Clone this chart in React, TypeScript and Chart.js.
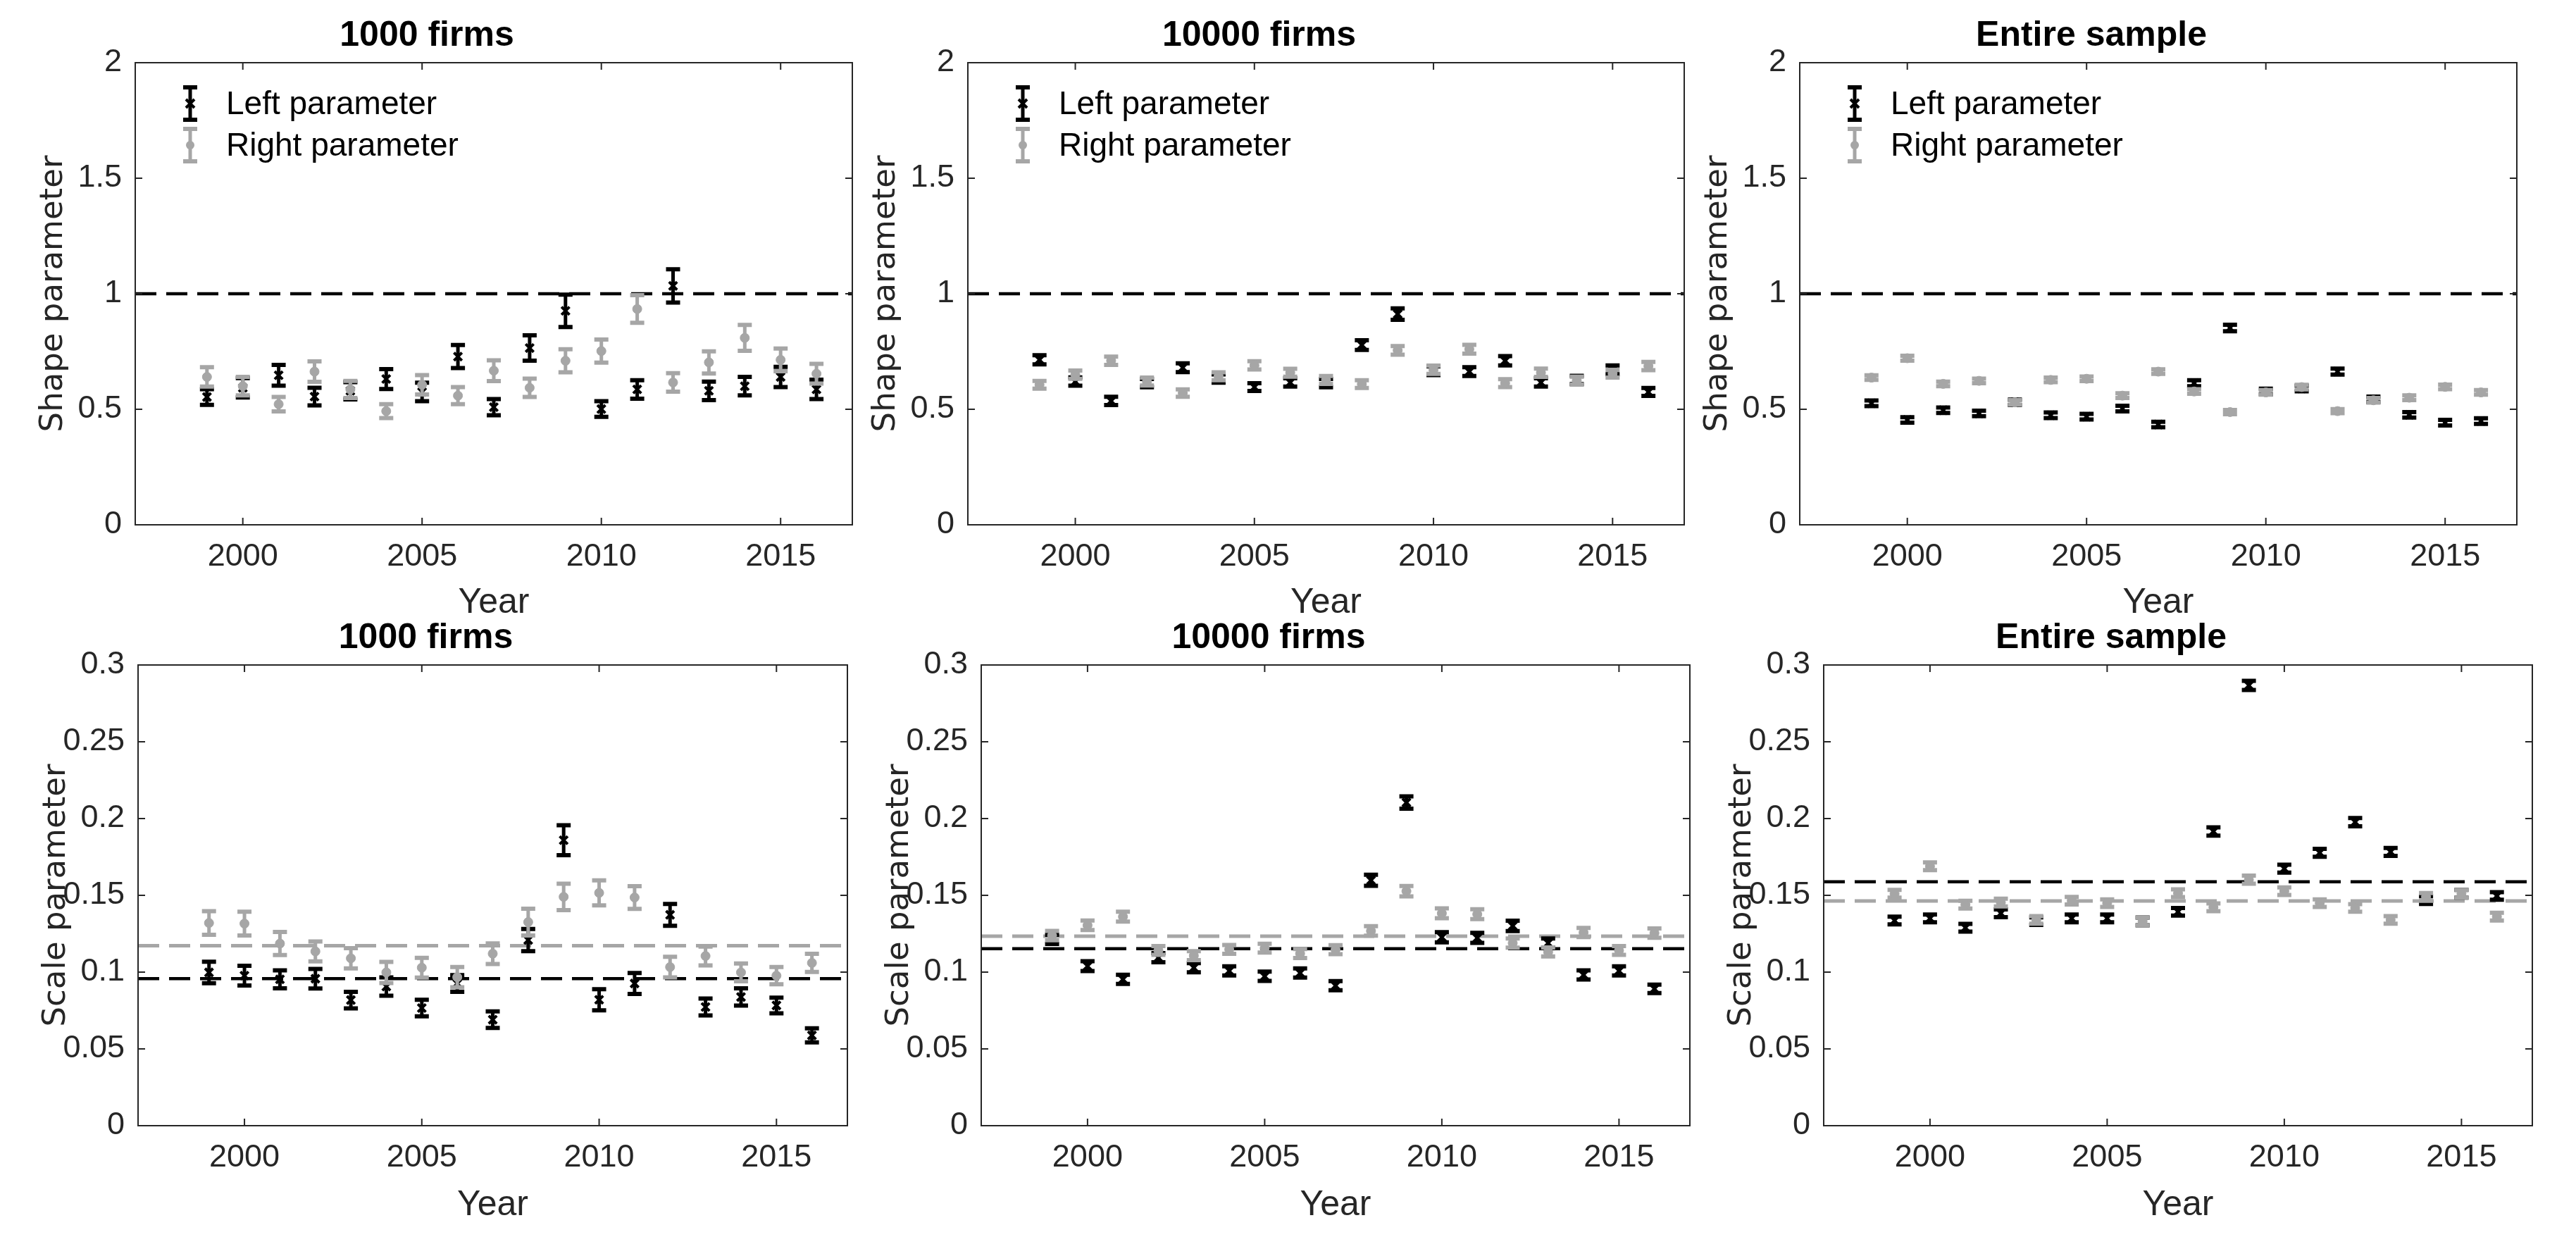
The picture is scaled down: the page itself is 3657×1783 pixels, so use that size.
import React, { useEffect, useRef } from 'react';
import { Chart, registerables } from 'chart.js';

Chart.register(...registerables);

// ---------------- data ----------------
const years = [1999, 2000, 2001, 2002, 2003, 2004, 2005, 2006, 2007, 2008, 2009, 2010, 2011, 2012, 2013, 2014, 2015, 2016];
const xTickValues = [2000, 2005, 2010, 2015];
const shapeTickValues = [0, 0.5, 1, 1.5, 2];
const scaleTickValues = [0, 0.05, 0.1, 0.15, 0.2, 0.25, 0.3];

const titles = ['1000 firms', '10000 firms', 'Entire sample'];
const shapeLabel = 'Shape parameter';
const scaleLabel = 'Scale parameter';
const xLabel = 'Year';
const legendLabels = ['Left parameter', 'Right parameter'];

// Shape parameter, 1000 firms
const shape1000Left = [0.553, 0.593, 0.647, 0.555, 0.580, 0.631, 0.575, 0.728, 0.509, 0.765, 0.926, 0.501, 0.586, 1.034, 0.580, 0.600, 0.640, 0.586];
const shape1000LeftErr = [0.034, 0.042, 0.045, 0.038, 0.037, 0.043, 0.040, 0.050, 0.035, 0.055, 0.070, 0.034, 0.040, 0.072, 0.040, 0.040, 0.044, 0.042];
const shape1000Right = [0.640, 0.600, 0.522, 0.663, 0.586, 0.492, 0.606, 0.559, 0.667, 0.593, 0.710, 0.752, 0.934, 0.616, 0.703, 0.809, 0.714, 0.654];
const shape1000RightErr = [0.042, 0.040, 0.031, 0.044, 0.037, 0.030, 0.042, 0.037, 0.045, 0.040, 0.050, 0.050, 0.060, 0.040, 0.048, 0.056, 0.049, 0.043];

// Shape parameter, 10000 firms
const shape10000Left = [0.714, 0.620, 0.536, 0.613, 0.680, 0.633, 0.596, 0.616, 0.613, 0.778, 0.912, 0.667, 0.663, 0.710, 0.616, 0.627, 0.671, 0.575];
const shape10000LeftErr = [0.020, 0.018, 0.018, 0.018, 0.019, 0.018, 0.017, 0.018, 0.018, 0.021, 0.025, 0.019, 0.019, 0.020, 0.018, 0.018, 0.019, 0.017];
const shape10000Right = [0.606, 0.650, 0.710, 0.620, 0.570, 0.643, 0.690, 0.658, 0.627, 0.609, 0.755, 0.671, 0.760, 0.613, 0.658, 0.624, 0.654, 0.687];
const shape10000RightErr = [0.017, 0.018, 0.018, 0.017, 0.016, 0.017, 0.018, 0.017, 0.017, 0.017, 0.019, 0.018, 0.019, 0.017, 0.018, 0.017, 0.017, 0.018];

// Shape parameter, entire sample
const shapeAllLeft = [0.526, 0.454, 0.496, 0.482, 0.530, 0.474, 0.468, 0.503, 0.434, 0.613, 0.852, 0.577, 0.590, 0.663, 0.543, 0.476, 0.442, 0.449];
const shapeAllLeftErr = [0.012, 0.012, 0.012, 0.012, 0.012, 0.012, 0.012, 0.012, 0.012, 0.013, 0.014, 0.012, 0.012, 0.013, 0.012, 0.012, 0.012, 0.012];
const shapeAllRight = [0.637, 0.721, 0.610, 0.623, 0.530, 0.627, 0.632, 0.559, 0.663, 0.577, 0.488, 0.573, 0.596, 0.492, 0.539, 0.550, 0.597, 0.573];
const shapeAllRightErr = [0.010, 0.011, 0.010, 0.010, 0.010, 0.010, 0.010, 0.010, 0.010, 0.010, 0.009, 0.010, 0.010, 0.009, 0.010, 0.010, 0.010, 0.010];

// Scale parameter, 1000 firms
const scale1000Left = [0.0998, 0.0977, 0.0953, 0.0957, 0.0818, 0.0906, 0.0766, 0.0926, 0.0690, 0.1209, 0.1859, 0.0820, 0.0926, 0.1373, 0.0773, 0.0838, 0.0783, 0.0588];
const scale1000LeftErr = [0.0070, 0.0064, 0.0058, 0.0064, 0.0054, 0.0060, 0.0054, 0.0054, 0.0054, 0.0072, 0.0097, 0.0069, 0.0068, 0.0071, 0.0055, 0.0056, 0.0051, 0.0046];
const scale1000Right = [0.1320, 0.1316, 0.1186, 0.1135, 0.1090, 0.0998, 0.1029, 0.0967, 0.1120, 0.1326, 0.1490, 0.1516, 0.1486, 0.1033, 0.1105, 0.0998, 0.0977, 0.1060];
const scale1000RightErr = [0.0077, 0.0077, 0.0075, 0.0065, 0.0066, 0.0069, 0.0064, 0.0066, 0.0067, 0.0087, 0.0086, 0.0081, 0.0074, 0.0067, 0.0061, 0.0058, 0.0056, 0.0059];

// Scale parameter, 10000 firms
const scale10000Left = [0.1213, 0.1039, 0.0953, 0.1094, 0.1029, 0.1008, 0.0973, 0.0994, 0.0912, 0.1598, 0.2104, 0.1227, 0.1223, 0.1301, 0.1189, 0.0982, 0.1008, 0.0891];
const scale10000LeftErr = [0.0030, 0.0032, 0.0030, 0.0030, 0.0030, 0.0030, 0.0030, 0.0030, 0.0030, 0.0036, 0.0040, 0.0033, 0.0033, 0.0034, 0.0030, 0.0030, 0.0030, 0.0028];
const scale10000Right = [0.1238, 0.1305, 0.1361, 0.1141, 0.1107, 0.1148, 0.1156, 0.1121, 0.1146, 0.1268, 0.1527, 0.1383, 0.1377, 0.1189, 0.1131, 0.1258, 0.1141, 0.1254];
const scale10000RightErr = [0.0030, 0.0031, 0.0032, 0.0029, 0.0029, 0.0029, 0.0029, 0.0029, 0.0029, 0.0031, 0.0034, 0.0032, 0.0032, 0.0030, 0.0029, 0.0030, 0.0029, 0.0030];

// Scale parameter, entire sample
const scaleAllLeft = [0.1336, 0.1350, 0.1289, 0.1383, 0.1332, 0.1350, 0.1350, 0.1330, 0.1393, 0.1916, 0.2867, 0.1674, 0.1777, 0.1977, 0.1783, 0.1469, 0.1510, 0.1496];
const scaleAllLeftErr = [0.0025, 0.0025, 0.0025, 0.0025, 0.0025, 0.0025, 0.0025, 0.0025, 0.0025, 0.0027, 0.0030, 0.0026, 0.0026, 0.0027, 0.0026, 0.0025, 0.0025, 0.0025];
const scaleAllRight = [0.1510, 0.1689, 0.1439, 0.1453, 0.1340, 0.1465, 0.1449, 0.1330, 0.1514, 0.1422, 0.1602, 0.1527, 0.1449, 0.1418, 0.1340, 0.1490, 0.1510, 0.1361];
const scaleAllRightErr = [0.0025, 0.0025, 0.0025, 0.0025, 0.0025, 0.0025, 0.0025, 0.0025, 0.0025, 0.0025, 0.0026, 0.0025, 0.0025, 0.0025, 0.0025, 0.0025, 0.0025, 0.0025];

// Reference (dashed) lines
const shapeReference = 1;
const scale1000LeftRef = 0.0957;
const scale1000RightRef = 0.1172;
const scale10000LeftRef = 0.1152;
const scale10000RightRef = 0.1234;
const scaleAllLeftRef = 0.1588;
const scaleAllRightRef = 0.1463;

// ---------------- styles ----------------
const BLACK = '#000000';
const GRAY = 'rgb(166,166,166)';
const AXIS = '#262626';
const SANS = '"Liberation Sans", Arial, Helvetica, sans-serif';
const YLABEL_FONT = '"DejaVu Sans", sans-serif';

const PAD_L = 190;
const PAD_T = 89;
const PAD_R = 30;
const PAD_B = 150;

type Rect = { x: number; y: number; w: number; h: number };

type PanelProps = {
  rect: Rect;
  title: string;
  yTitle: string;
  yTicks: number[];
  yMax: number;
  left: number[];
  leftErr: number[];
  right: number[];
  rightErr: number[];
  leftRef: number | null;
  rightRef: number | null;
  showLegend: boolean;
  xTitlePad: number;
};

function drawErrorIcon(ctx: CanvasRenderingContext2D, x: number, y: number, color: string, marker: 'x' | 'o') {
  ctx.save();
  ctx.strokeStyle = color;
  ctx.fillStyle = color;
  ctx.lineWidth = 5;
  ctx.beginPath();
  ctx.moveTo(x, y - 23);
  ctx.lineTo(x, y + 23);
  ctx.stroke();
  ctx.lineWidth = 6;
  ctx.beginPath();
  ctx.moveTo(x - 10, y - 23);
  ctx.lineTo(x + 10, y - 23);
  ctx.moveTo(x - 10, y + 23);
  ctx.lineTo(x + 10, y + 23);
  ctx.stroke();
  if (marker === 'x') {
    ctx.lineWidth = 4;
    ctx.beginPath();
    ctx.moveTo(x - 6, y - 6);
    ctx.lineTo(x + 6, y + 6);
    ctx.moveTo(x - 6, y + 6);
    ctx.lineTo(x + 6, y - 6);
    ctx.stroke();
  } else {
    ctx.beginPath();
    ctx.arc(x, y, 6, 0, Math.PI * 2);
    ctx.fill();
  }
  ctx.restore();
}

function Panel(props: PanelProps) {
  const ref = useRef<HTMLCanvasElement | null>(null);
  const { rect } = props;
  const cw = rect.w + PAD_L + PAD_R;
  const ch = rect.h + PAD_T + PAD_B;

  useEffect(() => {
    const canvas = ref.current;
    if (!canvas) return;

    const errorBars = {
      id: 'errorBars',
      beforeDatasetDraw(chart: any, args: any) {
        const ds = chart.data.datasets[args.index];
        if (!ds.errors) return;
        const ctx = chart.ctx as CanvasRenderingContext2D;
        const xs = chart.scales.x;
        const ys = chart.scales.y;
        ctx.save();
        ctx.strokeStyle = ds.errColor;
        ds.data.forEach((p: any, i: number) => {
          const e = ds.errors[i];
          const px = xs.getPixelForValue(p.x);
          const pt = ys.getPixelForValue(p.y + e);
          const pb = ys.getPixelForValue(p.y - e);
          ctx.lineWidth = 5;
          ctx.beginPath();
          ctx.moveTo(px, pt);
          ctx.lineTo(px, pb);
          ctx.stroke();
          ctx.lineWidth = 6;
          ctx.beginPath();
          ctx.moveTo(px - 10, pt);
          ctx.lineTo(px + 10, pt);
          ctx.moveTo(px - 10, pb);
          ctx.lineTo(px + 10, pb);
          ctx.stroke();
        });
        ctx.restore();
      },
    };

    const frame = {
      id: 'frame',
      afterDraw(chart: any) {
        const ctx = chart.ctx as CanvasRenderingContext2D;
        const a = chart.chartArea;
        const xs = chart.scales.x;
        const ys = chart.scales.y;
        ctx.save();
        ctx.strokeStyle = AXIS;
        ctx.lineWidth = 2;
        ctx.strokeRect(a.left, a.top, a.right - a.left, a.bottom - a.top);
        const tl = 10;
        ctx.beginPath();
        xs.ticks.forEach((t: any) => {
          const px = xs.getPixelForValue(t.value);
          ctx.moveTo(px, a.bottom);
          ctx.lineTo(px, a.bottom - tl);
          ctx.moveTo(px, a.top);
          ctx.lineTo(px, a.top + tl);
        });
        ys.ticks.forEach((t: any) => {
          const py = ys.getPixelForValue(t.value);
          ctx.moveTo(a.left, py);
          ctx.lineTo(a.left + tl, py);
          ctx.moveTo(a.right, py);
          ctx.lineTo(a.right - tl, py);
        });
        ctx.stroke();

        if (props.showLegend) {
          const rows = [
            { label: legendLabels[0], color: BLACK, marker: 'x' as const },
            { label: legendLabels[1], color: GRAY, marker: 'o' as const },
          ];
          rows.forEach((r, i) => {
            const y = a.top + 58 + i * 59;
            drawErrorIcon(ctx, a.left + 78, y, r.color, r.marker);
            ctx.fillStyle = '#000';
            ctx.font = `46px ${SANS}`;
            ctx.textAlign = 'left';
            ctx.textBaseline = 'middle';
            ctx.fillText(r.label, a.left + 129, y + 2);
          });
        }
        ctx.restore();
      },
    };

    const datasets: any[] = [
      {
        label: legendLabels[1],
        data: years.map((yr, i) => ({ x: yr, y: props.right[i] })),
        errors: props.rightErr,
        errColor: GRAY,
        pointStyle: 'circle',
        pointRadius: 6.5,
        backgroundColor: GRAY,
        borderColor: GRAY,
        borderWidth: 1,
        showLine: false,
      },
      {
        label: legendLabels[0],
        data: years.map((yr, i) => ({ x: yr, y: props.left[i] })),
        errors: props.leftErr,
        errColor: BLACK,
        pointStyle: 'crossRot',
        pointRadius: 8,
        backgroundColor: BLACK,
        borderColor: BLACK,
        borderWidth: 4,
        showLine: false,
      },
    ];
    if (props.rightRef !== null) {
      datasets.push({
        type: 'line',
        data: [
          { x: 1997, y: props.rightRef },
          { x: 2017, y: props.rightRef },
        ],
        borderColor: GRAY,
        borderWidth: 5,
        borderDash: [30, 14],
        pointRadius: 0,
        showLine: true,
        fill: false,
      });
    }
    if (props.leftRef !== null) {
      datasets.push({
        type: 'line',
        data: [
          { x: 1997, y: props.leftRef },
          { x: 2017, y: props.leftRef },
        ],
        borderColor: BLACK,
        borderWidth: 4.5,
        borderDash: [30, 14],
        pointRadius: 0,
        showLine: true,
        fill: false,
      });
    }

    const chart = new Chart(canvas, {
      type: 'scatter',
      data: { datasets },
      options: {
        animation: false,
        responsive: false,
        devicePixelRatio: 1,
        events: [],
        layout: { padding: { left: 0, top: 21, right: PAD_R, bottom: 0 } },
        plugins: {
          legend: { display: false },
          tooltip: { enabled: false },
          title: {
            display: true,
            text: props.title,
            color: '#000',
            font: { family: SANS, size: 50, weight: 'bold', lineHeight: 1.2 },
            padding: { top: 0, bottom: 8 },
          },
        },
        scales: {
          x: {
            type: 'linear',
            min: 1997,
            max: 2017,
            grid: { display: false, drawTicks: false },
            border: { display: false },
            afterBuildTicks: (s: any) => {
              s.ticks = xTickValues.map((v) => ({ value: v }));
            },
            afterFit: (s: any) => {
              s.height = PAD_B;
            },
            ticks: {
              color: AXIS,
              font: { family: SANS, size: 45, lineHeight: 1.2 },
              padding: 19,
              maxRotation: 0,
              autoSkip: false,
              callback: (v: any) => String(v),
            },
            title: {
              display: true,
              text: xLabel,
              color: AXIS,
              font: { family: SANS, size: 50, lineHeight: 1.2 },
              padding: { top: 0, bottom: props.xTitlePad },
            },
          },
          y: {
            type: 'linear',
            min: 0,
            max: props.yMax,
            grid: { display: false, drawTicks: false },
            border: { display: false },
            afterBuildTicks: (s: any) => {
              s.ticks = props.yTicks.map((v) => ({ value: v }));
            },
            afterFit: (s: any) => {
              s.width = PAD_L;
            },
            ticks: {
              color: AXIS,
              font: { family: SANS, size: 45, lineHeight: 1.2 },
              padding: 19,
              autoSkip: false,
              callback: (v: any) => String(v),
            },
            title: {
              display: true,
              text: props.yTitle,
              color: AXIS,
              font: { family: YLABEL_FONT, size: 45, lineHeight: 1.2 },
              padding: { top: 47, bottom: 0 },
            },
          },
        },
      } as any,
      plugins: [errorBars, frame],
    });

    return () => chart.destroy();
  }, []);

  return (
    <canvas
      ref={ref}
      width={cw}
      height={ch}
      style={{
        position: 'absolute',
        left: rect.x - PAD_L,
        top: rect.y - PAD_T,
        width: cw,
        height: ch,
      }}
    />
  );
}

export default function App() {
  const panels: PanelProps[] = [
    {
      rect: { x: 192, y: 89, w: 1018, h: 656 }, title: titles[0], yTitle: shapeLabel, yTicks: shapeTickValues, yMax: 2,
      left: shape1000Left, leftErr: shape1000LeftErr, right: shape1000Right, rightErr: shape1000RightErr,
      leftRef: shapeReference, rightRef: null, showLegend: true, xTitlePad: 9,
    },
    {
      rect: { x: 1374, y: 89, w: 1017, h: 656 }, title: titles[1], yTitle: shapeLabel, yTicks: shapeTickValues, yMax: 2,
      left: shape10000Left, leftErr: shape10000LeftErr, right: shape10000Right, rightErr: shape10000RightErr,
      leftRef: shapeReference, rightRef: null, showLegend: true, xTitlePad: 9,
    },
    {
      rect: { x: 2555, y: 89, w: 1018, h: 656 }, title: titles[2], yTitle: shapeLabel, yTicks: shapeTickValues, yMax: 2,
      left: shapeAllLeft, leftErr: shapeAllLeftErr, right: shapeAllRight, rightErr: shapeAllRightErr,
      leftRef: shapeReference, rightRef: null, showLegend: true, xTitlePad: 9,
    },
    {
      rect: { x: 196, y: 944, w: 1007, h: 654 }, title: titles[0], yTitle: scaleLabel, yTicks: scaleTickValues, yMax: 0.3,
      left: scale1000Left, leftErr: scale1000LeftErr, right: scale1000Right, rightErr: scale1000RightErr,
      leftRef: scale1000LeftRef, rightRef: scale1000RightRef, showLegend: false, xTitlePad: 7,
    },
    {
      rect: { x: 1393, y: 944, w: 1006, h: 654 }, title: titles[1], yTitle: scaleLabel, yTicks: scaleTickValues, yMax: 0.3,
      left: scale10000Left, leftErr: scale10000LeftErr, right: scale10000Right, rightErr: scale10000RightErr,
      leftRef: scale10000LeftRef, rightRef: scale10000RightRef, showLegend: false, xTitlePad: 7,
    },
    {
      rect: { x: 2589, y: 944, w: 1006, h: 654 }, title: titles[2], yTitle: scaleLabel, yTicks: scaleTickValues, yMax: 0.3,
      left: scaleAllLeft, leftErr: scaleAllLeftErr, right: scaleAllRight, rightErr: scaleAllRightErr,
      leftRef: scaleAllLeftRef, rightRef: scaleAllRightRef, showLegend: false, xTitlePad: 7,
    },
  ];

  return (
    <div
      style={{
        position: 'absolute',
        left: 0,
        top: 0,
        width: 3657,
        height: 1783,
        background: '#ffffff',
        overflow: 'hidden',
      }}
    >
      {panels.map((p, i) => (
        <Panel key={i} {...p} />
      ))}
    </div>
  );
}
